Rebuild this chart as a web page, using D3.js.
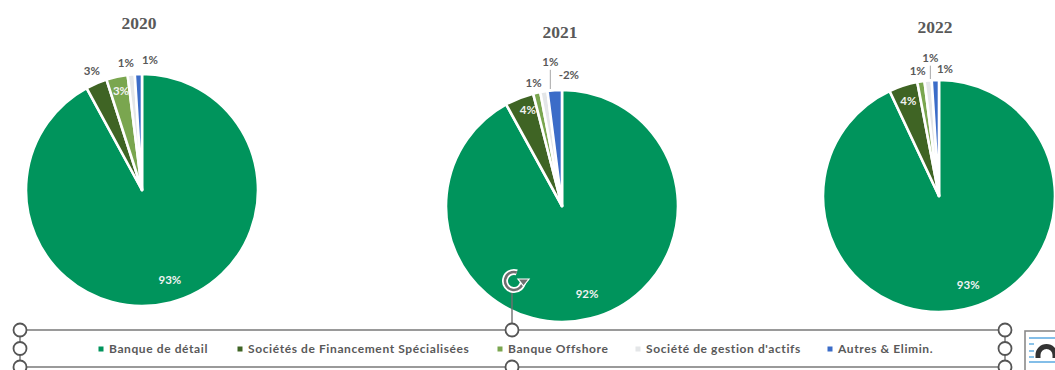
<!DOCTYPE html>
<html>
<head>
<meta charset="utf-8">
<style>
html, body { margin: 0; padding: 0; background: #fff; }
svg { display: block; }
text { font-family: Lato, "Open Sans", sans-serif; }
</style>
<script src="https://cdn.jsdelivr.net/npm/d3@7/dist/d3.min.js"></script>
</head>
<body>
<svg id="chart" width="1055" height="370"></svg>
<script>
// Revenue share by business line, one pie per year.
const categories = ["Banque de détail", "Sociétés de Financement Spécialisées", "Banque Offshore", "Société de gestion d'actifs", "Autres & Elimin."];
const years = ["2020", "2021", "2022"];
const values2020 = [93, 3, 3, 1, 1];
const values2021 = [92, 4, 1, 1, -2];
const values2022 = [93, 4, 1, 1, 1];
const allValues = [values2020, values2021, values2022];

// Layout
const sliceColors = ["#00945c", "#3f6424", "#7aa64f", "#e4e6e8", "#3b6cc8"];
const pieCentres = [[142, 190], [562, 206], [939, 196]];
const pieRadius = 116;
const titlePositions = [[139, 29], [560, 38], [935, 33]];
const legendX = [101, 240, 500, 638, 830];
// Each label: radius as a share of the pie radius, then dx, dy, white text flag, leader line flag
const labelPlacement = [
  [[0.8, 5, 0, 1], [1.12, 1, 0, 0], [0.88, 1, 1, 1], [1.12, -4, 2, 0], [1.12, 12, 0, 0]],
  [[0.8, 2, -2, 1], [0.8, 0, -10, 1], [1.12, 0, 4, 0], [1.25, 11, -1, 0, 1], [1.12, 15, -1, 0]],
  [[0.8, 9, -2, 1], [0.8, -2, -7, 1], [1.12, -1, 3, 0], [1.25, 5, 6, 0, 1], [1.12, 10, 3, 0]]
];

const svg = d3.select("#chart");
const pie = d3.pie().sort(null).value(d => Math.abs(d));
const arc = d3.arc().innerRadius(0).outerRadius(pieRadius);

allValues.forEach((vals, y) => {
  const [cx, cy] = pieCentres[y];
  const g = svg.append("g").attr("transform", `translate(${cx},${cy})`);
  const arcs = pie(vals);

  g.selectAll("path.slice").data(arcs).join("path")
    .attr("class", "slice")
    .attr("d", arc)
    .attr("fill", (d, i) => sliceColors[i])
    .attr("stroke", "#fff")
    .attr("stroke-width", 2.6)
    .attr("stroke-linejoin", "round");

  arcs.forEach((d, i) => {
    const [rf, dx, dy, white, leader] = labelPlacement[y][i];
    const r = pieRadius * rf;
    const [px, py] = d3.arc().innerRadius(r).outerRadius(r).centroid(d);
    const x = px + dx, ly = py + dy;
    if (leader) {
      g.append("line")
        .attr("x1", x).attr("x2", x)
        .attr("y1", ly + 8).attr("y2", -pieRadius - 1)
        .attr("stroke", "#a6a6a6").attr("stroke-width", 1);
    }
    g.append("text")
      .attr("x", x).attr("y", ly)
      .attr("dy", "0.35em")
      .attr("text-anchor", "middle")
      .attr("font-size", 11.5)
      .attr("font-weight", 700)
      .attr("fill", white ? "#f2f2f2" : "#595959")
      .text(d.data + "%");
  });

  svg.append("text")
    .attr("x", titlePositions[y][0]).attr("y", titlePositions[y][1])
    .attr("text-anchor", "middle")
    .attr("font-size", 17.5)
    .attr("font-weight", 700)
    .attr("fill", "#595959")
    .style("font-family", "'Liberation Serif', serif")
    .text(years[y]);
});

// Selection frame around the legend
const frame = { x0: 20, x1: 1005, y0: 330, y1: 367 };
const handleX = [frame.x0, (frame.x0 + frame.x1) / 2 - 0.5, frame.x1];
const handleY = [frame.y0, (frame.y0 + frame.y1) / 2, frame.y1];
const stroke = "#6f6f6f";

svg.append("rect")
  .attr("x", frame.x0).attr("y", frame.y0)
  .attr("width", frame.x1 - frame.x0).attr("height", frame.y1 - frame.y0)
  .attr("fill", "#fff").attr("stroke", stroke).attr("stroke-width", 1.4);

// Legend entries
const legend = svg.append("g").selectAll("g").data(categories).join("g")
  .attr("transform", (d, i) => `translate(${legendX[i]},349)`);
legend.append("rect")
  .attr("x", -2.5).attr("y", -2.5).attr("width", 5).attr("height", 5)
  .attr("fill", (d, i) => sliceColors[i]);
legend.append("text")
  .attr("x", 8).attr("dy", "0.35em")
  .attr("font-size", 12)
  .attr("font-weight", 700)
  .attr("letter-spacing", 0.6)
  .attr("fill", "#595959")
  .text(d => d);

// Rotation handle and its stem
const rot = { x: 514, y: 281 };
svg.append("line")
  .attr("x1", handleX[1]).attr("x2", handleX[1])
  .attr("y1", rot.y + 11).attr("y2", frame.y0)
  .attr("stroke", stroke).attr("stroke-width", 1.4);
const rotArc = d3.arc().innerRadius(9).outerRadius(9).startAngle(Math.PI * 0.5).endAngle(Math.PI * 2.1);
const rotG = svg.append("g").attr("transform", `translate(${rot.x},${rot.y})`);
rotG.append("path").attr("d", rotArc()).attr("fill", "none").attr("stroke", "#fff").attr("stroke-width", 6);
rotG.append("path").attr("d", rotArc()).attr("fill", "none").attr("stroke", "#6f6f6f").attr("stroke-width", 2.5);
rotG.append("path").attr("d", "M4,-2 L15,-2 L9.5,5 Z").attr("fill", "#6f6f6f").attr("stroke", "#fff").attr("stroke-width", 1.2);

// Resize handles
const handles = [];
handleX.forEach((x, i) => handleY.forEach((y, j) => { if (i !== 1 || j !== 1) handles.push([x, y]); }));
svg.selectAll("circle.handle").data(handles).join("circle")
  .attr("class", "handle")
  .attr("cx", d => d[0]).attr("cy", d => d[1]).attr("r", 6.5)
  .attr("fill", "#fff").attr("stroke", "#555").attr("stroke-width", 1.8);

// Layout-options button beside the frame
const btn = svg.append("g").attr("transform", "translate(1025,331)");
btn.append("rect").attr("x", 0).attr("y", 0).attr("width", 40).attr("height", 50).attr("fill", "#fff").attr("stroke", "#8a8a8a").attr("stroke-width", 1.6);
[7, 31].forEach(y => btn.append("line").attr("x1", 4).attr("x2", 40).attr("y1", y).attr("y2", y).attr("stroke", "#5aa9e0").attr("stroke-width", 1.4));
[13, 20, 26].forEach(y => btn.append("line").attr("x1", 4).attr("x2", 9).attr("y1", y).attr("y2", y).attr("stroke", "#5aa9e0").attr("stroke-width", 1.4));
btn.append("path").attr("d", "M13,27 L13,24 A8.5,8.5 0 0 1 30,24 L30,27").attr("fill", "none").attr("stroke", "#333").attr("stroke-width", 5);
</script>
</body>
</html>
